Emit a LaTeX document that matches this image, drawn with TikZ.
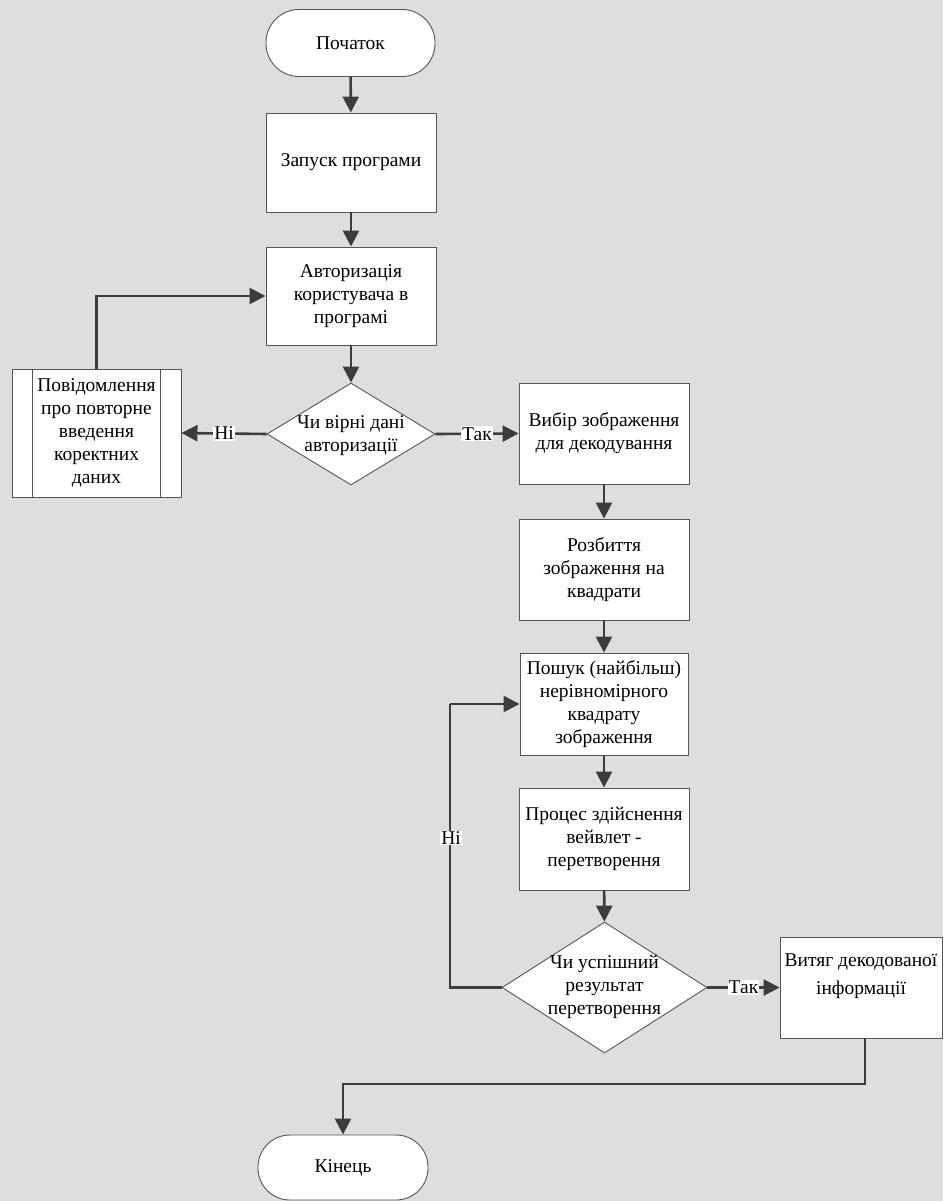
\documentclass[tikz,border=0pt]{standalone}
\usepackage{fontspec}
\setmainfont{Liberation Serif}
\usetikzlibrary{shapes.geometric,arrows.meta}
\definecolor{bgc}{RGB}{222,222,222}
\definecolor{linec}{RGB}{60,60,60}
\definecolor{bordc}{RGB}{85,85,85}
\tikzset{
  base/.style={draw=bordc, line width=0.9pt, fill=white, align=center, inner sep=2pt,
    font=\fontsize{19.5}{23}\selectfont},
  proc/.style={base, rectangle, minimum width=170pt, minimum height=101pt},
  term/.style={base, rectangle, rounded corners=33pt, minimum width=169pt, minimum height=67pt},
  dia/.style={draw=bordc, line width=0.9pt, fill=white, diamond, inner sep=0pt},
  dtext/.style={align=center, inner sep=0pt, font=\fontsize{19.5}{23}\selectfont},
  conn/.style={draw=linec, line width=2.6pt, -{Triangle[length=16pt,width=16pt]}},
  plain/.style={draw=linec, line width=2.6pt},
  lbl/.style={fill=white, inner sep=1pt, font=\fontsize{19.5}{23}\selectfont}
}
\begin{document}
\begin{tikzpicture}[x=1pt,y=-1pt]
\fill[bgc] (0,0) rectangle (943,1201);
\useasboundingbox (0,0) rectangle (943,1201);

\node[term] (start) at (350.5,43) {Початок};
\node[proc, minimum height=99pt] (run) at (351,162.5) {Запуск програми};
\node[proc, minimum height=98pt] (auth) at (351,296) {Авторизація\\користувача в\\програмі};
\node[dia, minimum width=168pt, minimum height=102pt] (d1) at (351,434) {};
\node[dtext] (d1t) at (351,436) {Чи вірні дані\\авторизації};
\node[proc, minimum width=169pt, minimum height=128pt] (msg) at (96.5,433) {Повідомлення\\про повторне\\введення\\коректних\\даних};
\draw[draw=bordc, line width=0.9pt] ([xshift=21pt]msg.north west) -- ([xshift=21pt]msg.south west);
\draw[draw=bordc, line width=0.9pt] ([xshift=-21pt]msg.north east) -- ([xshift=-21pt]msg.south east);
\node[proc] (sel) at (604,433.5) {Вибір зображення\\для декодування};
\node[proc] (split) at (604,569.5) {Розбиття\\зображення на\\квадрати};
\node[proc, minimum width=168pt, minimum height=102pt] (search) at (604,704) {Пошук (найбільш)\\нерівномірного\\квадрату\\зображення};
\node[proc, minimum height=102pt] (pr) at (604,839) {Процес здійснення\\вейвлет -\\перетворення};
\node[dia, minimum width=205pt, minimum height=131pt] (d2) at (604.5,987.5) {};
\node[dtext] (d2t) at (604.5,987) {Чи успішний\\результат\\перетворення};
\node[proc, minimum width=162pt, minimum height=101pt] (extr) at (861,987.5) {Витяг декодованої\\[5pt]інформації\\[4pt]};
\node[term, minimum height=65pt, rounded corners=32pt, minimum width=170pt] (fin) at (343,1167.5) {Кінець};

\coordinate (lx) at (450,846);
\coordinate (turn) at (0,1084);

\draw[conn] (start) -- (run);
\draw[conn] (run) -- (auth);
\draw[conn] (auth) -- (d1);
\draw[conn] (d1.west) -- node[lbl, midway] (no1) {Ні} (msg.east);
\draw[conn] (d1.east) -- node[lbl, midway] (yes1) {Так} (sel.west);
\draw[conn] (msg.north) |- (auth.west);
\draw[conn] (sel) -- (split);
\draw[conn] (split) -- (search);
\draw[conn] (search) -- (pr);
\draw[conn] (pr) -- (d2);
\draw[plain] (d2.west) -- (d2.west -| lx) -- (search.west -| lx);
\draw[conn] (search.west -| lx) -- (search.west);
\node[lbl] (no2) at (451,838) {Ні};
\draw[conn] (d2.east) -- node[lbl, midway] (yes2) {Так} (extr.west);
\draw[conn] ([xshift=4pt]extr.south) -- ([xshift=4pt]extr.south |- turn) -| (fin.north);
\end{tikzpicture}
\end{document}
